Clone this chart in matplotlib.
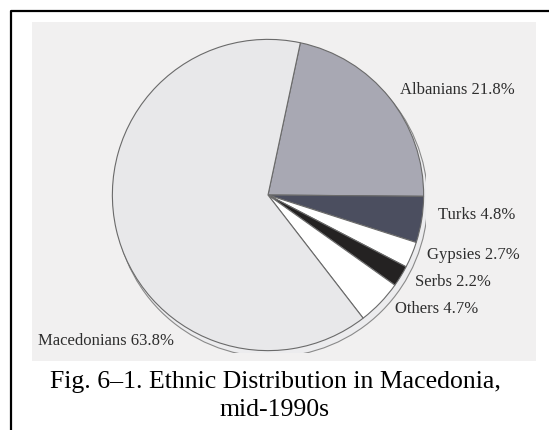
import matplotlib.pyplot as plt
from matplotlib.patches import Rectangle, Circle

groups = ['Albanians', 'Turks', 'Gypsies', 'Serbs', 'Others', 'Macedonians']
shares = [21.8, 4.8, 2.7, 2.2, 4.7, 63.8]
colors = ['#a8a8b3', '#4b4e5f', '#ffffff', '#242222', '#ffffff', '#e8e8ea']
# label anchor (left edge x, center y) in pixels of the 549x430 canvas
label_px = [(400, 90), (438, 215), (427, 255), (415, 282), (395, 309), (38, 341)]

W, H = 549, 430
fig = plt.figure(figsize=(W / 100, H / 100), dpi=100)
fig.patch.set_facecolor('white')

# frame and scanned panel
bg = fig.add_axes([0, 0, 1, 1])
bg.set_xlim(0, W)
bg.set_ylim(H, 0)
bg.axis('off')
bg.plot([11, 11, W], [H, 10.5, 10.5], color='black', lw=1.6)
bg.add_patch(Rectangle((32, 22), 504, 339, facecolor='#f1f0f0', edgecolor='none'))

# pie
cx, cy, r = 268, 195, 158
ax = fig.add_axes([(cx - r) / W, 1 - (cy + r) / H, 2 * r / W, 2 * r / H])
ax.axis('off')
# faint 3d rim
ax.add_patch(Circle((0.02, -0.035), 0.99, facecolor='#ececee', edgecolor='#8a8a8a', lw=0.8))
ax.pie(shares, colors=colors, startangle=78, counterclock=False, radius=0.985,
       wedgeprops=dict(edgecolor='#6a6a6a', linewidth=0.8))
ax.set_aspect('equal')
ax.set_xlim(-1, 1)
ax.set_ylim(-1, 1)

for g, s, (x, y) in zip(groups, shares, label_px):
    bg.text(x, y, f'{g} {s}%', fontsize=12, family='Liberation Serif',
            color='#2e2e2e', ha='left', va='center')

bg.text(275, 382, 'Fig. 6\u20131. Ethnic Distribution in Macedonia,', fontsize=18.5,
        family='Liberation Serif', ha='center', va='center')
bg.text(275, 410, 'mid-1990s', fontsize=18.5, family='Liberation Serif',
        ha='center', va='center')

fig.savefig('out.png', dpi=100)
